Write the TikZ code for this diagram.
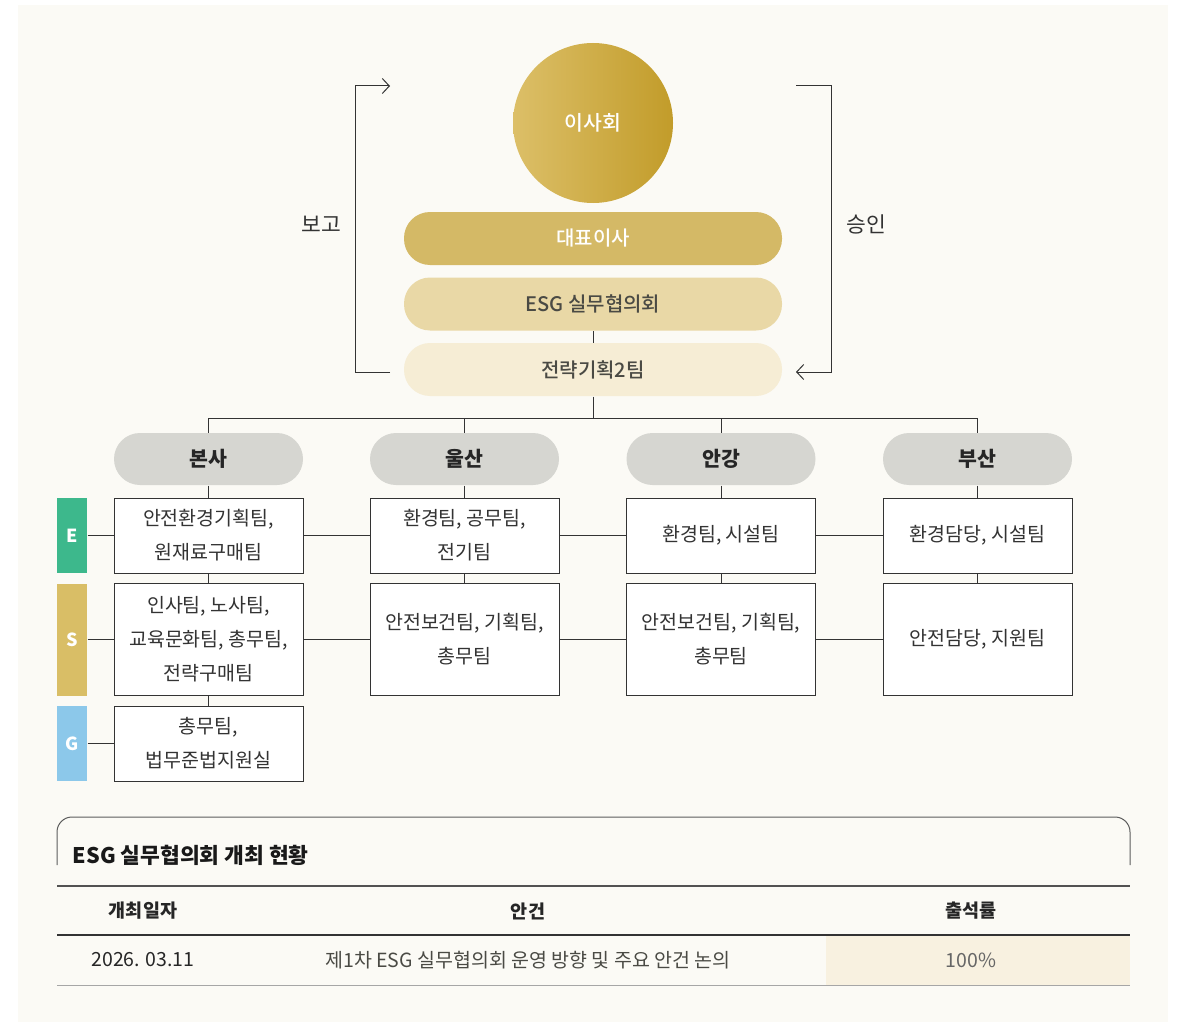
\documentclass[tikz,border=0pt]{standalone}
\usepackage{fontspec}
\setmainfont{Noto Sans CJK KR}
\newfontfamily\medfont{Noto Sans CJK KR Medium}
\usetikzlibrary{arrows.meta}
\definecolor{panel}{HTML}{FBFAF5}
\definecolor{goldA}{HTML}{DCBF68}
\definecolor{goldB}{HTML}{D9BC72}
\definecolor{goldC}{HTML}{C29C2A}
\definecolor{ceoc}{HTML}{D4B966}
\definecolor{esgc}{HTML}{E9D8A6}
\definecolor{sptc}{HTML}{F6EDD5}
\definecolor{regc}{HTML}{D6D6D1}
\definecolor{linec}{HTML}{333333}
\definecolor{txtc}{HTML}{4A4A44}
\definecolor{tagE}{HTML}{3DB88C}
\definecolor{tagS}{HTML}{D9BE66}
\definecolor{tagG}{HTML}{8CC8EA}
\definecolor{cellc}{HTML}{F8F1E0}
\tikzstyle{board} = [circle, minimum size=160pt, left color=goldA, middle color=goldB, right color=goldC, text=white, font=\medfont\fontsize{20.5}{24}\selectfont]
\tikzstyle{pill} = [rounded corners=26pt, minimum width=378pt, minimum height=53pt, text=txtc, font=\medfont\fontsize{20}{24}\selectfont]
\tikzstyle{region} = [rounded corners=26pt, fill=regc, minimum width=189pt, minimum height=52pt, text=black!85, font=\bfseries\fontsize{20.5}{24}\selectfont]
\tikzstyle{team} = [draw=linec, line width=1pt, fill=white, minimum width=189pt, align=center, text=linec, font=\fontsize{19.5}{34}\selectfont]
\tikzstyle{tag} = [minimum width=30pt, text=white, font=\bfseries\fontsize{18}{20}\selectfont]
\tikzstyle{side} = [text=linec, font=\fontsize{21.5}{24}\selectfont]
\tikzstyle{head} = [text=black!85, font=\bfseries\fontsize{18.5}{22}\selectfont]
\tikzstyle{cell} = [font=\fontsize{19.5}{22}\selectfont]

\begin{document}
\begin{tikzpicture}[x=1pt,y=-1pt, >={Straight Barb[length=7pt,width=15pt]}, line width=1pt]
  \useasboundingbox (0,0) rectangle (1184,1022);
  \fill [panel] (18,5) rectangle (1168,1022);
  % top of the chart
  \node (bod) at (593,123) [board] {이사회};
  \node (ceo) at (593,238.5) [pill, fill=ceoc, text=white] {대표이사};
  \node (esg) at (593,304) [pill, fill=esgc] {ESG 실무협의회};
  \node (spt) at (593,369.5) [pill, fill=sptc] {전략기획2팀};
  \coordinate (j) at (593,418);
  \coordinate (la) at (390,372);
  \coordinate (lb) at (390,86);
  \coordinate (ra) at (796,86);
  \coordinate (rb) at (796,372);
  \node (rep) at (321,224) [side] {보고};
  \node (apv) at (866,224) [side] {승인};
  % sites
  \node (hq) at (208.5,459) [region] {본사};
  \node (us) at (464.5,459) [region] {울산};
  \node (ag) at (721,459) [region] {안강};
  \node (bs) at (977.5,459) [region] {부산};
  \node (hqE) at (208.5,535.5) [team, minimum height=75pt] {안전환경기획팀,\\원재료구매팀};
  \node (usE) at (464.5,535.5) [team, minimum height=75pt] {환경팀, 공무팀,\\전기팀};
  \node (agE) at (721,535.5) [team, minimum height=75pt] {환경팀, 시설팀};
  \node (bsE) at (977.5,535.5) [team, minimum height=75pt] {환경담당, 시설팀};
  \node (hqS) at (208.5,639.5) [team, minimum height=112pt] {인사팀, 노사팀,\\교육문화팀, 총무팀,\\전략구매팀};
  \node (usS) at (464.5,639.5) [team, minimum height=112pt] {안전보건팀, 기획팀,\\총무팀};
  \node (agS) at (721,639.5) [team, minimum height=112pt] {안전보건팀, 기획팀,\\총무팀};
  \node (bsS) at (977.5,639.5) [team, minimum height=112pt] {안전담당, 지원팀};
  \node (hqG) at (208.5,743.5) [team, minimum height=75pt] {총무팀,\\법무준법지원실};
  \node (tE) at (72,535.5) [tag, fill=tagE, minimum height=75pt] {E};
  \node (tS) at (72,639.5) [tag, fill=tagS, minimum height=112pt] {S};
  \node (tG) at (72,743.5) [tag, fill=tagG, minimum height=75pt] {G};
  \draw [linec] (esg) -- (spt);
  \draw [linec] (spt) -- (j);
  \draw [linec] (hq.north) |- (j);
  \draw [linec] (us.north) |- (j);
  \draw [linec] (ag.north) |- (j);
  \draw [linec] (bs.north) |- (j);
  \draw [linec] (hq) -- (hqE);
  \draw [linec] (us) -- (usE);
  \draw [linec] (ag) -- (agE);
  \draw [linec] (bs) -- (bsE);
  \draw [linec] (hqE) -- (hqS);
  \draw [linec] (usE) -- (usS);
  \draw [linec] (agE) -- (agS);
  \draw [linec] (bsE) -- (bsS);
  \draw [linec] (hqS) -- (hqG);
  \draw [linec] (tE) -- (hqE);
  \draw [linec] (hqE) -- (usE);
  \draw [linec] (usE) -- (agE);
  \draw [linec] (agE) -- (bsE);
  \draw [linec] (tS) -- (hqS);
  \draw [linec] (hqS) -- (usS);
  \draw [linec] (usS) -- (agS);
  \draw [linec] (agS) -- (bsS);
  \draw [linec] (tG) -- (hqG);
  \draw [->, linec] (la) -- ++(-35,0) |- (lb);
  \draw [->, linec] (ra) -- ++(35,0) |- (rb);
  % meeting table
  \draw [linec!80, rounded corners=15pt] (57,865) -- (57,817) -- (1130,817) -- (1130,865);
  \node (tt) at (69,855) [anchor=west, text=black!90, font=\bfseries\fontsize{21.5}{24}\selectfont] {ESG 실무협의회 개최 현황};
  \fill [cellc] (826,936) rectangle (1130,985);
  \draw [linec!85, line width=1.3pt] (57,886) -- (1130,886);
  \draw [linec, line width=2pt] (57,935) -- (1130,935);
  \draw [black!35] (57,985) -- (1130,985);
  \node (h1) at (143,911) [head] {개최일자};
  \node (h2) at (528,911) [head] {안건};
  \node (h3) at (971,911) [head] {출석률};
  \node (c1) at (143,960) [cell, text=black!85] {2026. 03.11};
  \node (c2) at (528,960) [cell, text=txtc] {제1차 ESG 실무협의회 운영 방향 및 주요 안건 논의};
  \node (c3) at (971,960) [cell, text=black!60] {100\%};
\end{tikzpicture}
\end{document}
